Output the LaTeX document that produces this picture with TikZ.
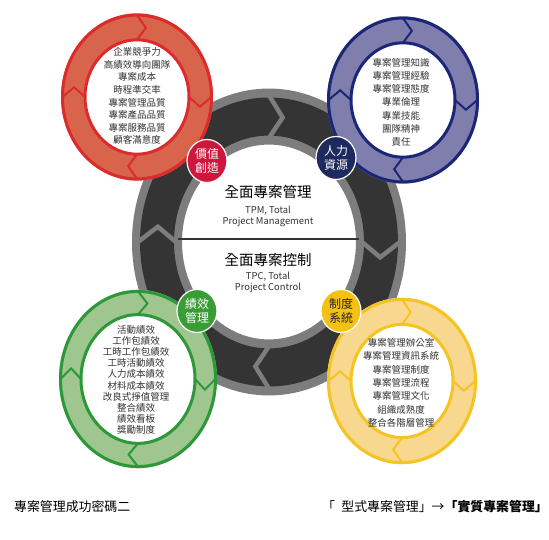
\documentclass[tikz,border=0pt]{standalone}
\usepackage{fontspec}
\setmainfont{Noto Sans CJK TC}
\usepackage{tikz}
\usetikzlibrary{shapes.geometric}
\definecolor{ringred}{RGB}{221, 42, 44}
\definecolor{fillred}{RGB}{216, 100, 76}
\definecolor{ringblue}{RGB}{28, 38, 120}
\definecolor{fillblue}{RGB}{128, 126, 172}
\definecolor{ringgreen}{RGB}{44, 152, 56}
\definecolor{fillgreen}{RGB}{158, 198, 142}
\definecolor{ringyellow}{RGB}{246, 196, 32}
\definecolor{fillyellow}{RGB}{248, 215, 142}
\definecolor{ringgray}{RGB}{125, 125, 125}
\definecolor{ringdark}{RGB}{52, 52, 52}
\definecolor{badgered}{RGB}{208, 22, 60}
\definecolor{badgeblue}{RGB}{30, 42, 94}
\definecolor{badgegreen}{RGB}{58, 156, 52}
\definecolor{badgeyellow}{RGB}{243, 193, 20}
\definecolor{textgray}{RGB}{50, 50, 50}

\tikzset{
	listtext/.style={text=textgray, font=\fontsize{9.5}{11}\selectfont, inner sep=0pt},
	badge/.style={ellipse, draw=white, line width=1.2pt, minimum width=40pt, minimum height=43pt,
		inner sep=0pt, align=center, text=white, font=\fontsize{12}{14.5}\selectfont},
	titletext/.style={text=black, font=\fontsize{14.5}{16}\selectfont, inner sep=0pt},
	entext/.style={text=textgray, font=\fontsize{9.4}{11}\selectfont, align=center, inner sep=0pt},
}

\begin{document}
\begin{tikzpicture}[x=1pt, y=1pt]
	\useasboundingbox (0,0) rectangle (549,-540);
	\fill[white] (0,0) rectangle (549,-540);
	% anillo central
	\begin{scope}[shift={(269,-242)}, yscale=1.12]
		\fill[ringgray, even odd rule] (0,0) circle (137) (0,0) circle (87);
		\fill[ringdark, even odd rule] (0,0) circle (129) (0,0) circle (95);
		\foreach \a in {0,90,180,270} {
			\draw[ringgray, line width=4.5pt] (\a:131) -- (\a-7:112) -- (\a:93);
		}
	\end{scope}
	% cuatro anillos de colores
	\foreach \cx/\cy/\r/\w/\ys/\rc/\fc in {137/97/76/24/1.1/ringred/fillred,
		403/100/76/24/1.1/ringblue/fillblue,
		138/379/79/22/1.13/ringgreen/fillgreen,
		402/381/75/24/1.11/ringyellow/fillyellow} {
		\begin{scope}[shift={(\cx,-\cy)}, yscale=\ys]
			\fill[\fc, even odd rule] (0,0) circle (\r) (0,0) circle (\r-\w);
			\fill[white] (0,0) circle (\r-\w);
			\draw[\rc, line width=3pt] (0,0) circle (\r-1.5) (0,0) circle (\r-\w);
			\foreach \a in {0,90,180,270} {
				\draw[\rc, line width=2pt] (\a:\r-1.5) -- (\a-8:\r-\w/2-0.5) -- (\a:\r-\w);
			}
		\end{scope}
	}
	% textos de cada anillo
	\foreach \t [count=\i from 0] in {企業競爭力, 高績效導向團隊, 專案成本, 時程準交率,
		專案管理品質, 專案產品品質, 專案服務品質, 顧客滿意度} {
		\node[listtext] (red\i) at (137,-52-12.6*\i) {\t};
	}
	\foreach \t [count=\i from 0] in {專案管理知識, 專案管理經驗, 專案管理態度, 專業倫理,
		專業技能, 團隊精神, 責任} {
		\node[listtext] (blue\i) at (401,-63-13.1*\i) {\t};
	}
	\foreach \t [count=\i from 0] in {活動績效, 工作包績效, 工時工作包績效, 工時活動績效,
		人力成本績效, 材料成本績效, 改良式掙值管理, 整合績效, 績效看板, 獎勵制度} {
		\node[listtext] (green\i) at (136,-330-11.1*\i) {\t};
	}
	\foreach \t [count=\i from 0] in {專案管理辦公室, 專案管理資訊系統, 專案管理制度,
		專案管理流程, 專案管理文化, 組織成熟度, 整合各階層管理} {
		\node[listtext] (yellow\i) at (401,-343-13.3*\i) {\t};
	}
	% insignias
	\node[badge, fill=badgered] (value) at (207,-161) {價值\\創造};
	\node[badge, fill=badgeblue] (people) at (336,-158) {人力\\資源};
	\node[badge, fill=badgegreen] (perform) at (197,-311) {績效\\管理};
	\node[badge, fill=badgeyellow, text=black!85] (system) at (341,-311) {制度\\系統};
	% texto central
	\node[titletext] (tpm) at (268,-192) {全面專案管理};
	\node[entext] (tpmen) at (268,-216.5) {TPM, Total\\Project Management};
	\draw[ringdark, line width=1.3pt] (178,-239) -- (359,-239);
	\node[titletext] (tpc) at (268,-260) {全面專案控制};
	\node[entext] (tpcen) at (268,-282.5) {TPC, Total\\Project Control};
	% pie
	\node[anchor=west, inner sep=0pt, font=\fontsize{12.9}{14}\selectfont] (caption) at (14,-507) {專案管理成功密碼二};
	\node[anchor=east, inner sep=0pt, font=\fontsize{12.9}{14}\selectfont] (motto) at (548,-507)
		{「\hspace{0.5em}型式專案管理」→\textbf{「實質專案管理」}};
\end{tikzpicture}
\end{document}
